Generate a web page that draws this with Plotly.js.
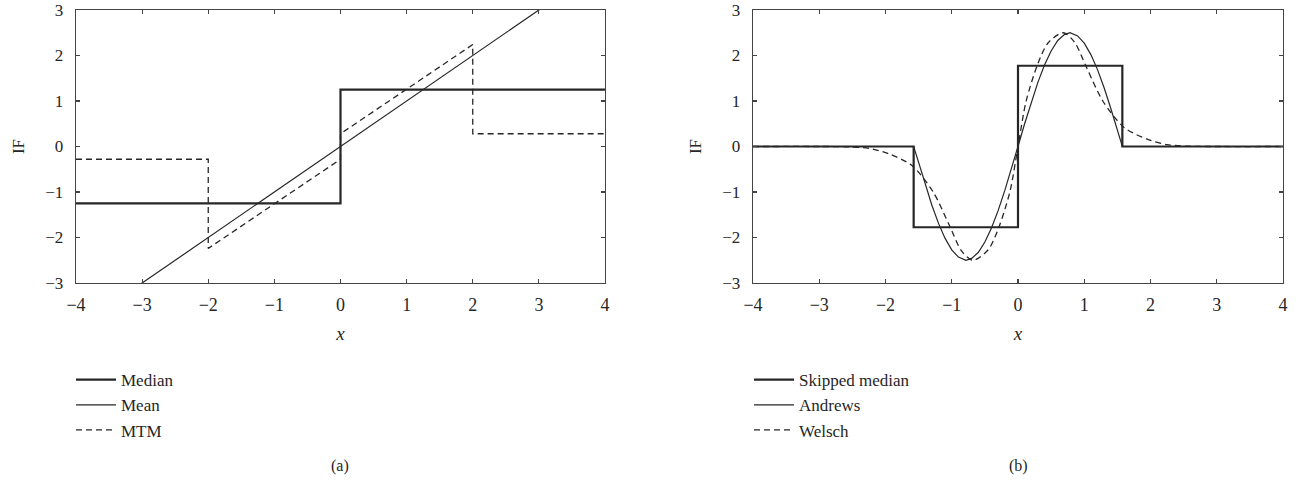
<!DOCTYPE html>
<html>
<head>
<meta charset="utf-8">
<script src="https://cdn.plot.ly/plotly-3.0.1.min.js"></script>
<style>html,body{margin:0;padding:0;background:#fff;}</style>
</head>
<body>
<div id="chart" style="width:1306px;height:482px;"></div>
<script>
// ---- Panel (a) data ----
const medianX = [-4, 0, 0, 4];
const medianY = [-1.25, -1.25, 1.25, 1.25];
const meanX = [-4, 4];
const meanY = [-4, 4];
const mtmX = [-4, -2, -2, 0, 0, 2, 2, 4];
const mtmY = [-0.28, -0.28, -2.24, -0.28, 0.28, 2.24, 0.28, 0.28];

// ---- Panel (b) data ----
const skippedX = [-4, -1.575, -1.575, 0, 0, 1.575, 1.575, 4];
const skippedY = [0, 0, -1.775, -1.775, 1.775, 1.775, 0, 0];
const andrewsX = [-4, -1.575, -1.5, -1.4, -1.3, -1.2, -1.1, -1.0, -0.9, -0.785, -0.7, -0.6, -0.5, -0.4, -0.3, -0.2, -0.1, 0,
                  0.1, 0.2, 0.3, 0.4, 0.5, 0.6, 0.7, 0.785, 0.9, 1.0, 1.1, 1.2, 1.3, 1.4, 1.5, 1.575, 4];
const andrewsY = [0, 0, -0.35, -0.84, -1.29, -1.69, -2.02, -2.27, -2.43, -2.50, -2.46, -2.33, -2.10, -1.79, -1.41, -0.97, -0.50, 0,
                  0.50, 0.97, 1.41, 1.79, 2.10, 2.33, 2.46, 2.50, 2.43, 2.27, 2.02, 1.69, 1.29, 0.84, 0.35, 0, 0];
const welschX = [-4, -3, -2.6, -2.25, -1.95, -1.6, -1.28, -1.04, -0.85, -0.68, -0.45, -0.29, -0.12, 0,
                 0.12, 0.29, 0.45, 0.68, 0.85, 1.04, 1.28, 1.6, 1.95, 2.25, 2.6, 3, 4];
const welschY = [0, 0, -0.005, -0.04, -0.16, -0.42, -1.0, -1.72, -2.3, -2.5, -2.27, -1.78, -0.98, 0,
                 0.98, 1.78, 2.27, 2.5, 2.3, 1.72, 1.0, 0.42, 0.16, 0.04, 0.005, 0, 0];

// ---- Labels ----
const legendA = ['Median', 'Mean', 'MTM'];
const legendB = ['Skipped median', 'Andrews', 'Welsch'];
const tickVals = [-4, -3, -2, -1, 0, 1, 2, 3, 4];
const yTickVals = [-3, -2, -1, 0, 1, 2, 3];

const ink = '#262626';
const FONT = '"Liberation Serif", "Times New Roman", serif';

const traces = [
  {x: medianX, y: medianY, name: legendA[0], mode: 'lines', line: {color: ink, width: 2.2}, xaxis: 'x', yaxis: 'y', legend: 'legend'},
  {x: meanX, y: meanY, name: legendA[1], mode: 'lines', line: {color: ink, width: 1.2}, xaxis: 'x', yaxis: 'y', legend: 'legend'},
  {x: mtmX, y: mtmY, name: legendA[2], mode: 'lines', line: {color: ink, width: 1.3, dash: '6px,4px'}, xaxis: 'x', yaxis: 'y', legend: 'legend'},
  {x: skippedX, y: skippedY, name: legendB[0], mode: 'lines', line: {color: ink, width: 2.2}, xaxis: 'x2', yaxis: 'y2', legend: 'legend2'},
  {x: andrewsX, y: andrewsY, name: legendB[1], mode: 'lines', line: {color: ink, width: 1.2}, xaxis: 'x2', yaxis: 'y2', legend: 'legend2'},
  {x: welschX, y: welschY, name: legendB[2], mode: 'lines', line: {color: ink, width: 1.3, dash: '6px,4px', shape: 'spline', smoothing: 0.8}, xaxis: 'x2', yaxis: 'y2', legend: 'legend2'}
];

function xAxis(domain, anchor) {
  return {
    domain: domain, anchor: anchor, range: [-4, 4],
    tickvals: tickVals, ticks: 'inside', ticklen: 4, tickwidth: 1.2, tickcolor: '#444',
    showline: true, linecolor: '#444', linewidth: 1.3, mirror: 'ticks',
    showgrid: false, zeroline: false,
    tickfont: {family: FONT, size: 18, color: ink},
    ticklabelstandoff: 5, ticklabeloverflow: 'allow',
    title: {text: '<i>x</i>', font: {family: FONT, size: 19, color: ink}, standoff: 12}
  };
}
function yAxis(anchor) {
  return {
    anchor: anchor, range: [-3, 3], domain: [0, 1],
    tickvals: yTickVals, ticks: 'inside', ticklen: 4, tickwidth: 1.2, tickcolor: '#444',
    showline: true, linecolor: '#444', linewidth: 1.3, mirror: 'ticks',
    showgrid: false, zeroline: false,
    tickfont: {family: FONT, size: 17, color: ink},
    ticklabelstandoff: 8, ticklabeloverflow: 'allow',
    title: {text: 'IF', font: {family: FONT, size: 17, color: ink}, standoff: 16}
  };
}

const W = 1306;
const layout = {
  width: 1306, height: 482, autosize: false,
  margin: {l: 0, r: 0, t: 10, b: 199, pad: 0},
  paper_bgcolor: '#fff', plot_bgcolor: '#fff',
  showlegend: true,
  xaxis: xAxis([76 / W, 605 / W], 'y'),
  yaxis: yAxis('x'),
  xaxis2: xAxis([753 / W, 1283 / W], 'y2'),
  yaxis2: yAxis('x2'),
  legend: {x: 71 / W, y: -0.29, xanchor: 'left', yanchor: 'top', bgcolor: 'rgba(0,0,0,0)', itemwidth: 40,
           font: {family: FONT, size: 17, color: ink}, tracegroupgap: 0},
  legend2: {x: 749 / W, y: -0.29, xanchor: 'left', yanchor: 'top', bgcolor: 'rgba(0,0,0,0)', itemwidth: 40,
           font: {family: FONT, size: 17, color: ink}, tracegroupgap: 0},
  annotations: [
    {text: '(a)', xref: 'paper', yref: 'paper', x: 340 / W, y: -0.67, xanchor: 'center', yanchor: 'middle', showarrow: false,
     font: {family: FONT, size: 16, color: ink}},
    {text: '(b)', xref: 'paper', yref: 'paper', x: 1018 / W, y: -0.67, xanchor: 'center', yanchor: 'middle', showarrow: false,
     font: {family: FONT, size: 16, color: ink}}
  ]
};

Plotly.newPlot('chart', traces, layout, {staticPlot: true, displayModeBar: false});
</script>
</body>
</html>
